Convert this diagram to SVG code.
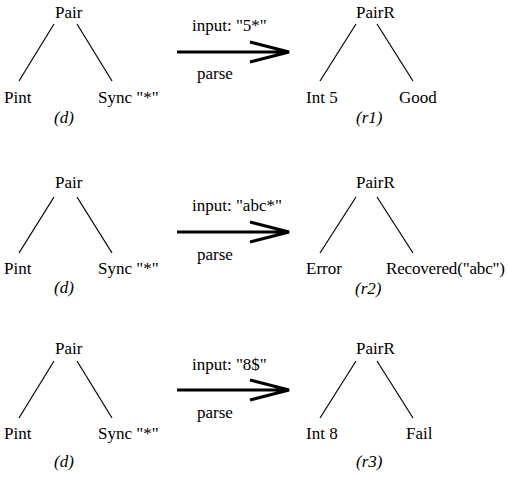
<svg xmlns="http://www.w3.org/2000/svg" width="508" height="477" viewBox="0 0 508 477">
<style>
text{font-family:'Liberation Serif','Times New Roman',serif;font-size:17px;fill:#000}
.it{font-style:italic}
.e{stroke:#000;stroke-width:1.2;fill:none}
.ar{stroke:#000;stroke-width:3.2;fill:none}
</style>
<rect width="508" height="477" fill="#fff"/>
<g id="connectors">
<line class="e" x1="54" y1="24" x2="19" y2="81"/><line class="e" x1="77" y1="24" x2="112" y2="81"/>
<line class="e" x1="356" y1="24" x2="320" y2="81"/><line class="e" x1="377" y1="24" x2="413" y2="81"/>
<line class="e" x1="54" y1="197" x2="19" y2="253"/><line class="e" x1="77" y1="197" x2="112" y2="253"/>
<line class="e" x1="356" y1="197" x2="320" y2="253"/><line class="e" x1="377" y1="197" x2="413" y2="253"/>
<line class="e" x1="54" y1="361" x2="19" y2="418"/><line class="e" x1="77" y1="361" x2="112" y2="418"/>
<line class="e" x1="356" y1="361" x2="320" y2="418"/><line class="e" x1="377" y1="361" x2="413" y2="418"/>
<path class="ar" d="M177 52H288M250 42L289 52L250 62"/>
<path class="ar" d="M177 232H288M250 222L289 232L250 242"/>
<path class="ar" d="M177 390H288M250 380L289 390L250 400"/>
</g>
<g id="d1"><text x="55" y="18">Pair</text><text x="4" y="103">Pint</text><text x="98" y="103">Sync "*"</text><text class="it" x="54" y="123">(d)</text></g>
<g id="a1"><text x="192" y="31">input: "5*"</text><text x="197" y="79">parse</text></g>
<g id="r1"><text x="356" y="18">PairR</text><text x="306" y="103">Int 5</text><text x="399" y="103">Good</text><text class="it" x="356" y="123">(r1)</text></g>
<g id="d2"><text x="55" y="188">Pair</text><text x="4" y="274">Pint</text><text x="98" y="274">Sync "*"</text><text class="it" x="54" y="293">(d)</text></g>
<g id="a2"><text x="192" y="211">input: "abc*"</text><text x="197" y="260">parse</text></g>
<g id="r2"><text x="356" y="188">PairR</text><text x="306" y="274">Error</text><text x="386" y="274" textLength="119">Recovered("abc")</text><text class="it" x="355" y="294">(r2)</text></g>
<g id="d3"><text x="55" y="354">Pair</text><text x="4" y="439">Pint</text><text x="98" y="439">Sync "*"</text><text class="it" x="54" y="467">(d)</text></g>
<g id="a3"><text x="192" y="370">input: "8$"</text><text x="197" y="418">parse</text></g>
<g id="r3"><text x="356" y="354">PairR</text><text x="306" y="439">Int 8</text><text x="406" y="439">Fail</text><text class="it" x="356" y="467">(r3)</text></g>
</svg>
